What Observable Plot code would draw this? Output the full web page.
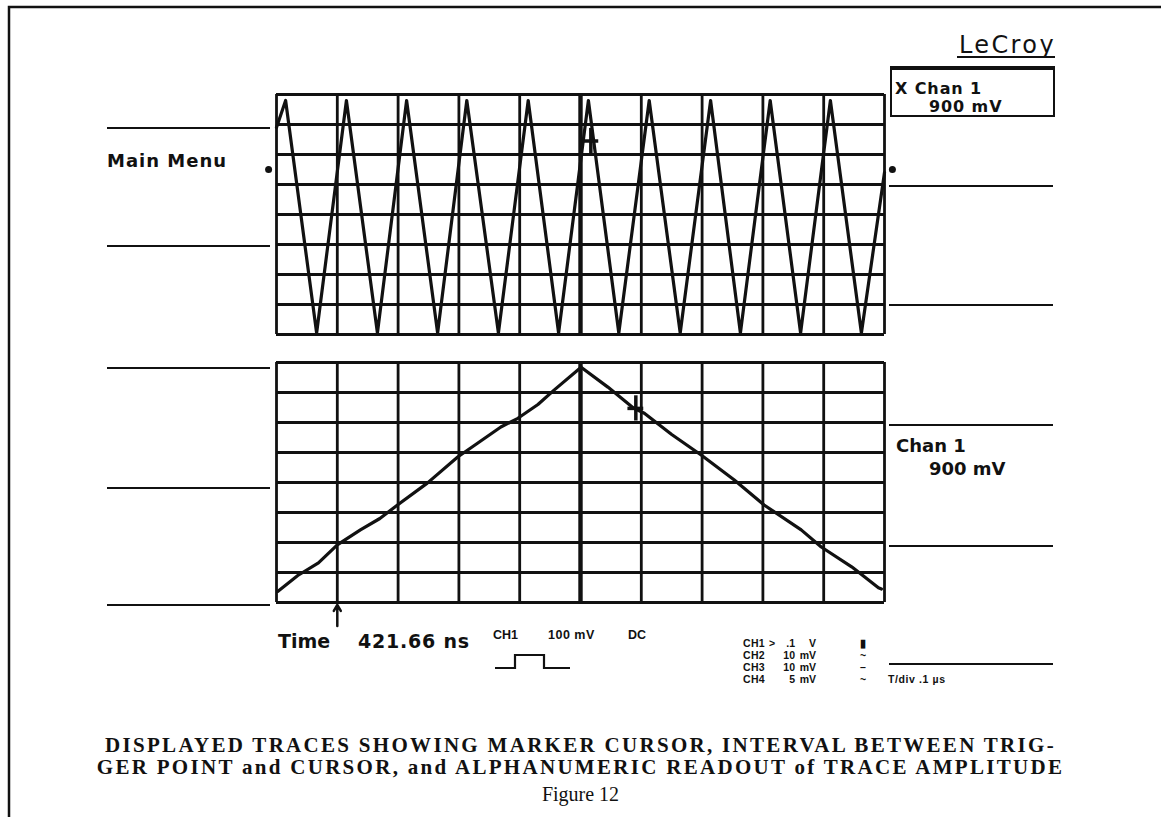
<!DOCTYPE html>
<html>
<head>
<meta charset="utf-8">
<script src="https://cdn.jsdelivr.net/npm/d3@7"></script>
<script src="https://cdn.jsdelivr.net/npm/@observablehq/plot@0.6"></script>
<style>
  html, body { margin: 0; padding: 0; background: #fff; }
  #wrap { position: relative; width: 1161px; height: 817px; overflow: hidden; background: #fff; }
  #wrap svg { position: absolute; left: 0; top: 0; }
  .cap { position: absolute; left: 0; width: 1161px; text-align: center; font-family: "Liberation Serif", "Times New Roman", serif; color: #111; font-size: 20px; line-height: 22px; white-space: nowrap; }
  .cap.b { font-weight: bold; font-size: 21px; letter-spacing: 2.3px; }
</style>
</head>
<body>
<div id="wrap"></div>
<script>
// ---------------- data ----------------
// grid divisions (10 horizontal x 8 vertical)
const divisions = [0, 1, 2, 3, 4, 6, 7, 8, 9, 10];
const centerDivision = [5];
const levels = [-4, -3, -2, -1, 0, 1, 2, 3, 4];
const panels = ["top", "bottom"];

// upper trace (expanded triangle wave), time in divisions, amplitude in divisions
const topTime  = [0, 0.15, 0.66, 1.15, 1.66, 2.14, 2.65, 3.13, 3.65, 4.14, 4.64, 5.13, 5.63, 6.13, 6.64, 7.14, 7.63, 8.12, 8.62, 9.11, 9.62, 10];
const topVolts = [2.9, 3.8, -3.95, 3.8, -3.95, 3.8, -3.95, 3.8, -3.95, 3.8, -3.95, 3.8, -3.95, 3.8, -3.95, 3.8, -3.95, 3.8, -3.95, 3.8, -3.95, 1.4];

// lower trace (single triangle)
const botTime  = [0.02, 0.35, 0.69, 1.0, 1.38, 1.7, 1.99, 2.48, 2.98, 3.3, 3.69, 3.97, 4.3, 4.56, 5.01, 5.45, 5.88, 6.05, 6.5, 6.99, 7.53, 8.02, 8.63, 8.96, 9.46, 9.9, 9.95];
const botVolts = [-3.63, -3.1, -2.68, -2.08, -1.58, -1.2, -0.75, -0.02, 0.85, 1.3, 1.85, 2.14, 2.6, 3.07, 3.84, 3.18, 2.47, 2.31, 1.6, 0.91, 0.08, -0.75, -1.58, -2.15, -2.81, -3.51, -3.55];

// marker cursor positions
const cursorPanel = ["top", "bottom"];
const cursorTime  = [5.17, 5.91];
const cursorVolts = [2.45, 2.47];

// trigger level markers
const triggerTime  = [-0.13, 10.13];
const triggerVolts = [1.5, 1.5];

// trigger point arrow
const arrowTime = [1.0];

// ---------------- build ----------------
const topTrace = topTime.map((t, i) => ({panel: "top", t, v: topVolts[i]}));
const botTrace = botTime.map((t, i) => ({panel: "bottom", t, v: botVolts[i]}));
const cursors = cursorTime.map((t, i) => ({panel: cursorPanel[i], t, v: cursorVolts[i]}));
const triggers = triggerTime.map((t, i) => ({panel: "top", t, v: triggerVolts[i]}));
const arrows = arrowTime.map(t => ({panel: "bottom", t}));

const ink = "#111";
const chart = Plot.plot({
  width: 1161,
  height: 700,
  marginTop: 93,
  marginBottom: 97,
  marginLeft: 276,
  marginRight: 277,
  x: {domain: [0, 10], axis: null},
  y: {domain: [-4, 4], axis: null},
  fy: {domain: panels, axis: null, paddingInner: 0.104, paddingOuter: 0},
  style: {background: "transparent"},
  marks: [
    Plot.ruleY(levels, {stroke: ink, strokeWidth: 2.8}),
    Plot.ruleX(divisions, {stroke: ink, strokeWidth: 2.8}),
    Plot.ruleX(centerDivision, {stroke: ink, strokeWidth: 4.4}),
    Plot.line(topTrace, {x: "t", y: "v", fy: "panel", stroke: ink, strokeWidth: 3.2, strokeLinejoin: "round"}),
    Plot.line(botTrace, {x: "t", y: "v", fy: "panel", stroke: ink, strokeWidth: 3.2, strokeLinejoin: "round"}),
    Plot.ruleX(cursors, {x: "t", y1: d => d.v - 0.42, y2: d => d.v + 0.42, fy: "panel", stroke: ink, strokeWidth: 3.5}),
    Plot.ruleY(cursors, {y: "v", x1: d => d.t - 0.13, x2: d => d.t + 0.13, fy: "panel", stroke: ink, strokeWidth: 3.5}),
    Plot.dot(triggers, {x: "t", y: "v", fy: "panel", r: 3.5, fill: ink, stroke: "none"}),
    Plot.arrow(arrows, {x1: "t", x2: "t", y1: () => -4.78, y2: () => -4.08, fy: "panel", stroke: ink, strokeWidth: 2.5, headLength: 9})
  ]
});

const wrap = document.getElementById("wrap");
wrap.appendChild(chart);

// ---------------- screen annotations ----------------
const svg = d3.create("svg").attr("width", 1161).attr("height", 817).style("pointer-events", "none");
const g = svg.append("g").attr("stroke", ink).attr("fill", "none");
// page border
g.append("path").attr("d", "M9,817 V7 H1161").attr("stroke-width", 2.5);
// soft-key separators
[128, 246, 368, 488, 605].forEach(y => g.append("line").attr("x1", 107).attr("x2", 270).attr("y1", y).attr("y2", y).attr("stroke-width", 2));
[186, 305, 425, 546, 664].forEach(y => g.append("line").attr("x1", 889).attr("x2", 1053).attr("y1", y).attr("y2", y).attr("stroke-width", 2));
// channel box
g.append("rect").attr("x", 891).attr("y", 68).attr("width", 163).attr("height", 48).attr("stroke-width", 2);
g.append("line").attr("x1", 890).attr("x2", 1055).attr("y1", 68).attr("y2", 68).attr("stroke-width", 4);
// LeCroy underline
g.append("line").attr("x1", 957).attr("x2", 1055).attr("y1", 57).attr("y2", 57).attr("stroke-width", 2);
// trigger slope glyph
g.append("polyline").attr("points", "495,668 515,668 515,655 544,655 544,668 570,668").attr("stroke-width", 2.2);

const t = svg.append("g").attr("fill", ink).attr("font-family", "'DejaVu Sans', sans-serif");
function txt(x, y, s, size, opts = {}) {
  const e = t.append("text").attr("x", x).attr("y", y).attr("font-size", size).text(s);
  e.attr("font-weight", opts.weight || "bold");
  if (opts.anchor) e.attr("text-anchor", opts.anchor);
  if (opts.ls) e.attr("letter-spacing", opts.ls);
  if (opts.family) e.attr("font-family", opts.family);
  return e;
}
txt(1056, 53, "LeCroy", 24, {weight: "normal", anchor: "end", ls: 2.4});
txt(895, 94, "X Chan 1", 16, {ls: 0.9});
txt(929, 112, "900 mV", 16, {ls: 0.9});
txt(107, 167, "Main Menu", 18, {ls: 1});
txt(896, 452, "Chan 1", 18);
txt(929, 475, "900 mV", 18);
txt(278, 648, "Time", 19);
txt(358, 648, "421.66 ns", 19, {ls: 0.8});
const small = "'Liberation Sans', Arial, sans-serif";
txt(493, 639, "CH1", 12.5, {family: small});
txt(548, 639, "100 mV", 12.5, {family: small, ls: 0.5});
txt(628, 639, "DC", 12.5, {family: small});
const rows = [
  ["CH1", ">", ".1", "V", "▮"],
  ["CH2", "", "10", "mV", "~"],
  ["CH3", "", "10", "mV", "–"],
  ["CH4", "", "5", "mV", "~"]
];
const rowY = [647, 659, 671, 683];
rows.forEach((r, i) => {
  txt(743, rowY[i], r[0], 10.5, {family: small, ls: 0.3});
  if (r[1]) txt(769, rowY[i], r[1], 10.5, {family: small});
  txt(795, rowY[i], r[2], 10.5, {family: small, anchor: "end"});
  txt(816, rowY[i], r[3], 10.5, {family: small, anchor: "end"});
  txt(863, rowY[i], r[4], 10.5, {family: small, anchor: "middle"});
});
txt(888, 683, "T/div .1 µs", 10.5, {family: small, ls: 0.6});

wrap.appendChild(svg.node());

// ---------------- caption ----------------
const capLines = [
  ["DISPLAYED TRACES SHOWING MARKER CURSOR, INTERVAL BETWEEN TRIG-", 734, true],
  ["GER POINT and CURSOR, and ALPHANUMERIC READOUT of TRACE AMPLITUDE", 756, true],
  ["Figure 12", 783, false]
];
capLines.forEach(([s, top, bold]) => {
  const d = document.createElement("div");
  d.className = "cap" + (bold ? " b" : "");
  d.style.top = top + "px";
  d.textContent = s;
  wrap.appendChild(d);
});
</script>
</body>
</html>
